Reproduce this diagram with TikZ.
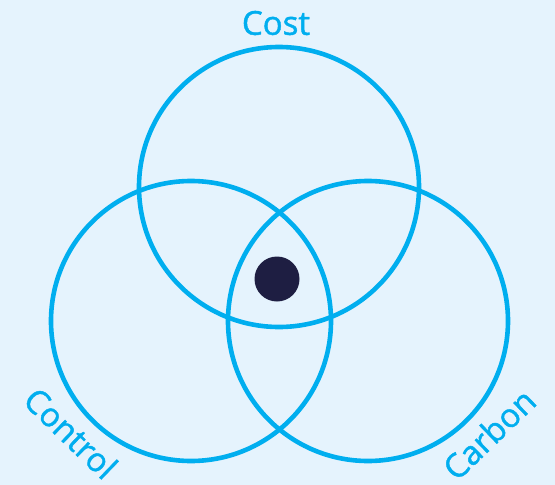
\documentclass[tikz,border=0pt]{standalone}
\usepackage{fontspec}
\setmainfont{Open Sans}
\newfontfamily\lblfont[FakeBold=1.3]{Open Sans}
\definecolor{bg}{HTML}{E5F3FD}
\definecolor{ring}{HTML}{00AEEF}
\definecolor{dot}{HTML}{1E1E42}
\begin{document}
\begin{tikzpicture}[x=1pt,y=-1pt,
  ring/.style={draw=ring,line width=4.6pt},
  lbl/.style={text=ring,font=\lblfont\fontsize{33}{33}\selectfont,inner sep=0pt}]
\fill[bg] (0,0) rectangle (555,485);
\useasboundingbox (0,0) rectangle (555,485);
\node[ring,circle,minimum size=280pt,inner sep=0pt] (top) at (279,187) {};
\node[ring,circle,minimum size=280pt,inner sep=0pt] (left) at (191,321) {};
\node[ring,circle,minimum size=280pt,inner sep=0pt] (right) at (368,321) {};
\node[fill=dot,circle,minimum size=45pt,inner sep=0pt] (core) at (277,279) {};
\node[lbl] (cost) at (276,23) {Cost};
\node[lbl,rotate=-44] (control) at (71,433) {Control};
\node[lbl,rotate=44] (carbon) at (489,434) {Carbon};
\end{tikzpicture}
\end{document}
